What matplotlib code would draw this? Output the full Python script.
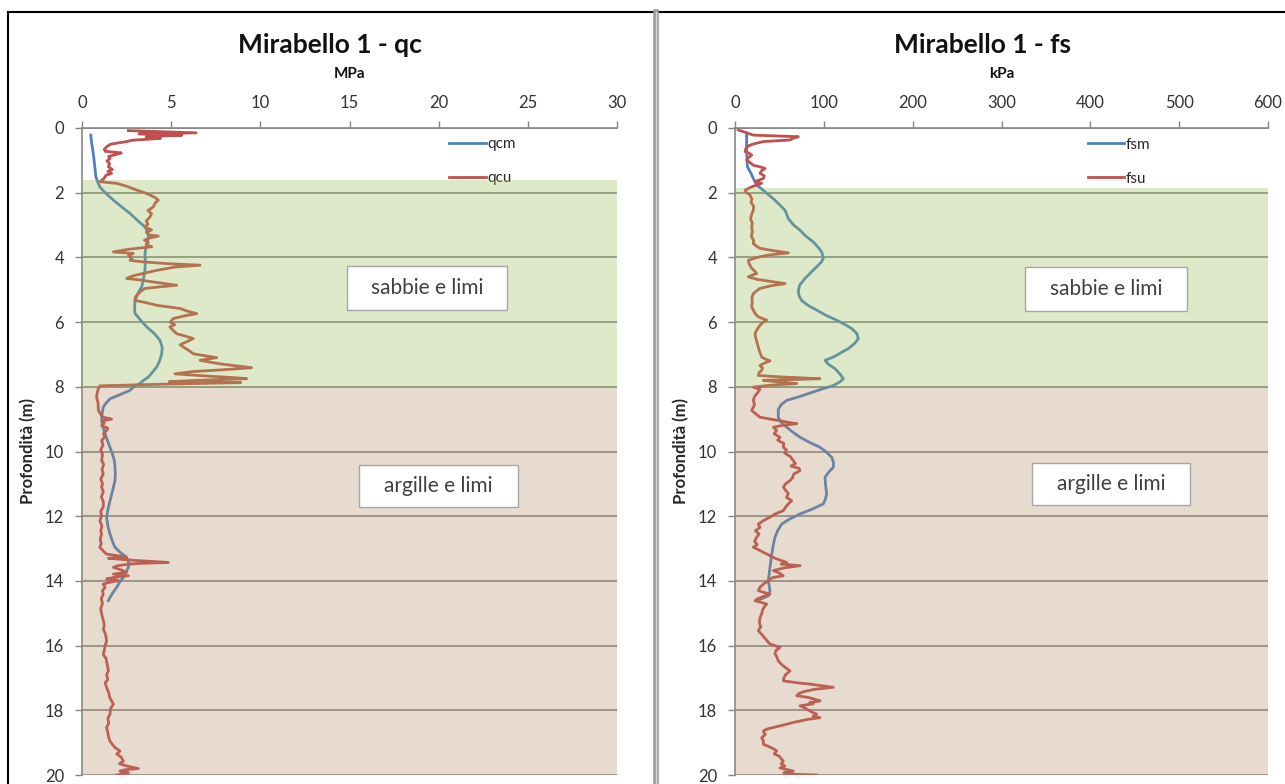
import numpy as np
import matplotlib
matplotlib.use('Agg')
import matplotlib.pyplot as plt
from matplotlib.lines import Line2D
from matplotlib.patches import Rectangle

plt.rcParams.update({
    'font.family': ['Lato', 'DejaVu Sans'],
    'font.size': 11,
    'text.color': '#262626',
    'axes.labelcolor': '#262626',
})

# --- CPT log, Mirabello 1: depth (m) vs value ---
# cone resistance, raw (qcu) and mean (qcm), MPa
QCU = [(0.08, 2.6), (0.12, 4.8), (0.15, 6.4), (0.18, 3.2), (0.22, 5.6), (0.27, 3.6), (0.32, 4.4),
       (0.38, 2.8), (0.42, 2.5), (0.50, 1.6), (0.58, 1.38), (0.66, 1.25), (0.72, 1.3), (0.77, 2.2),
       (0.82, 1.9), (0.88, 1.5), (0.94, 1.57), (1.02, 1.4), (1.10, 1.55), (1.20, 1.48), (1.28, 1.7),
       (1.34, 1.45), (1.40, 1.66), (1.46, 1.35), (1.51, 1.29), (1.58, 1.2), (1.66, 1.0), (1.71, 1.94),
       (1.80, 2.5), (1.92, 3.07), (2.0, 3.5), (2.07, 3.81), (2.15, 4.1), (2.23, 4.28), (2.32, 4.1),
       (2.44, 4.0), (2.55, 3.7), (2.65, 3.9), (2.75, 3.81), (2.88, 3.6), (2.97, 3.7), (3.06, 3.53),
       (3.15, 3.9), (3.22, 3.6), (3.31, 3.81), (3.34, 4.28), (3.40, 3.8), (3.47, 3.5), (3.52, 3.72),
       (3.60, 3.6), (3.67, 3.91), (3.75, 2.6), (3.83, 1.76), (3.88, 2.88), (3.95, 2.6), (4.02, 2.8),
       (4.09, 2.69), (4.14, 3.44), (4.20, 5.0), (4.24, 6.62), (4.30, 5.2), (4.40, 4.19), (4.50, 3.4),
       (4.58, 2.8), (4.65, 2.5), (4.70, 3.3), (4.76, 4.0), (4.82, 4.8), (4.86, 5.31), (4.92, 4.2),
       (4.96, 3.53), (5.05, 3.3), (5.12, 3.16), (5.22, 3.0), (5.33, 2.97), (5.40, 3.6), (5.48, 4.19),
       (5.58, 5.5), (5.66, 5.9), (5.74, 6.43), (5.80, 5.8), (5.89, 5.12), (6.0, 4.95), (6.08, 5.2),
       (6.15, 4.93), (6.25, 5.1), (6.36, 5.31), (6.45, 5.9), (6.51, 6.24), (6.60, 5.9), (6.70, 5.5),
       (6.77, 5.68), (6.88, 6.0), (6.98, 6.24), (7.04, 6.9), (7.10, 7.55), (7.18, 6.62), (7.24, 7.2),
       (7.29, 7.74), (7.35, 8.6), (7.41, 9.51), (7.47, 8.0), (7.53, 6.2), (7.60, 5.21), (7.66, 6.8),
       (7.72, 8.6), (7.75, 9.23), (7.80, 6.5), (7.84, 4.9), (7.87, 8.9), (7.92, 4.5), (7.97, 1.0),
       (8.05, 0.92), (8.2, 0.85), (8.32, 0.82), (8.5, 0.9), (8.73, 0.92), (8.85, 1.05), (8.94, 1.19),
       (9.0, 1.66), (9.05, 1.15), (9.12, 1.25), (9.2, 1.1), (9.28, 1.45), (9.35, 1.38), (9.45, 1.2),
       (9.55, 1.28), (9.66, 1.10), (9.8, 1.18), (9.95, 1.05), (10.1, 1.15), (10.28, 1.10), (10.4, 1.22),
       (10.55, 1.12), (10.69, 1.19), (10.85, 1.05), (11.0, 1.15), (11.1, 1.10), (11.25, 1.2),
       (11.4, 1.08), (11.55, 1.2), (11.72, 1.19), (11.85, 1.05), (12.0, 1.1), (12.14, 1.0),
       (12.3, 1.12), (12.45, 1.05), (12.55, 1.10), (12.7, 1.02), (12.85, 1.08), (12.96, 1.0),
       (13.08, 1.2), (13.17, 1.38), (13.23, 2.1), (13.27, 2.5), (13.30, 1.48), (13.36, 2.8),
       (13.43, 4.84), (13.46, 3.2), (13.48, 2.69), (13.53, 2.0), (13.58, 1.76), (13.66, 2.2),
       (13.73, 2.5), (13.79, 1.76), (13.84, 2.6), (13.90, 1.7), (13.94, 1.38), (13.99, 2.04),
       (14.05, 1.5), (14.10, 1.19), (14.2, 1.3), (14.3, 1.15), (14.41, 1.19), (14.55, 1.08),
       (14.7, 1.15), (14.85, 1.05), (15.02, 1.10), (15.2, 1.18), (15.35, 1.25), (15.5, 1.2),
       (15.65, 1.32), (15.85, 1.38), (16.0, 1.3), (16.15, 1.25), (16.27, 1.19), (16.4, 1.35),
       (16.55, 1.4), (16.78, 1.48), (16.9, 1.38), (17.05, 1.45), (17.15, 1.3), (17.3, 1.38),
       (17.45, 1.5), (17.6, 1.55), (17.81, 1.76), (17.95, 1.6), (18.12, 1.57), (18.25, 1.45),
       (18.4, 1.5), (18.53, 1.38), (18.7, 1.45), (18.85, 1.5), (18.95, 1.57), (19.05, 1.7),
       (19.15, 1.85), (19.26, 2.13), (19.35, 1.95), (19.45, 2.2), (19.57, 2.32), (19.65, 2.1),
       (19.72, 2.5), (19.80, 3.16), (19.84, 2.4), (19.88, 2.13), (19.93, 2.6), (19.97, 2.3), (20.0, 1.94)]

QCM = [(0.22, 0.49), (0.5, 0.55), (0.78, 0.63), (1.1, 0.7), (1.51, 0.78), (1.7, 0.9), (1.82, 1.0),
       (2.0, 1.3), (2.23, 1.76), (2.45, 2.25), (2.64, 2.69), (2.85, 3.1), (3.06, 3.53), (3.2, 3.68),
       (3.36, 3.72), (3.6, 3.62), (3.88, 3.53), (4.15, 3.55), (4.4, 3.53), (4.65, 3.45), (4.91, 3.35),
       (5.1, 3.15), (5.33, 2.97), (5.55, 2.95), (5.73, 2.97), (5.95, 3.3), (6.15, 3.63), (6.35, 4.05),
       (6.56, 4.37), (6.78, 4.5), (6.98, 4.47), (7.2, 4.35), (7.39, 4.19), (7.55, 3.95), (7.70, 3.72),
       (7.8, 3.45), (7.9, 3.25), (8.0, 2.9), (8.11, 2.69), (8.25, 2.1), (8.37, 1.57), (8.5, 1.35),
       (8.63, 1.19), (8.85, 1.12), (9.04, 1.10), (9.25, 1.18), (9.45, 1.29), (9.65, 1.42),
       (9.87, 1.57), (10.1, 1.72), (10.3, 1.82), (10.49, 1.85), (10.7, 1.87), (10.9, 1.85),
       (11.2, 1.72), (11.52, 1.57), (11.8, 1.45), (12.03, 1.38), (12.3, 1.45), (12.55, 1.57),
       (12.8, 1.72), (12.96, 1.85), (13.12, 2.15), (13.27, 2.5), (13.45, 2.62), (13.58, 2.6),
       (13.75, 2.45), (13.89, 2.32), (14.05, 2.1), (14.2, 1.94), (14.35, 1.75), (14.51, 1.57),
       (14.61, 1.48)]

# sleeve friction, raw (fsu) and mean (fsm), kPa
FSU = [(0.06, 3.7), (0.14, 12), (0.22, 20.6), (0.25, 50), (0.27, 71.3), (0.32, 65), (0.37, 61.9),
       (0.42, 31.9), (0.5, 20), (0.58, 13.1), (0.66, 12), (0.73, 11.3), (0.78, 16), (0.84, 18.8),
       (0.92, 15), (0.99, 13.1), (1.07, 17), (1.15, 20.6), (1.2, 28), (1.25, 33.8), (1.32, 30),
       (1.4, 28.1), (1.48, 33), (1.56, 31.9), (1.62, 26), (1.66, 22.5), (1.71, 30), (1.76, 25),
       (1.82, 18.8), (1.92, 11.3), (2.0, 13), (2.07, 16.9), (2.2, 19), (2.3, 18), (2.42, 21),
       (2.54, 20.6), (2.65, 19), (2.8, 17.5), (2.95, 19.5), (3.06, 18.8), (3.2, 19.5), (3.35, 18.5),
       (3.48, 21), (3.57, 20.6), (3.65, 24), (3.72, 28.1), (3.8, 45), (3.86, 60), (3.92, 40),
       (3.98, 28.1), (4.04, 20), (4.09, 15), (4.2, 16), (4.34, 18.8), (4.42, 22), (4.5, 24.4),
       (4.55, 19), (4.6, 15), (4.68, 25), (4.75, 42), (4.81, 56.3), (4.88, 40), (4.96, 28.1),
       (5.04, 24), (5.12, 20.6), (5.25, 19), (5.4, 19.5), (5.53, 18.8), (5.65, 21), (5.75, 23),
       (5.84, 26.3), (5.9, 32), (5.94, 35.7), (6.02, 31), (6.1, 28.1), (6.22, 25), (6.36, 22.5),
       (6.5, 23.5), (6.65, 25), (6.77, 26.3), (6.9, 27.5), (7.0, 29), (7.08, 30), (7.14, 34),
       (7.2, 39.4), (7.27, 33), (7.34, 28.1), (7.42, 31), (7.49, 30), (7.57, 27), (7.65, 26.3),
       (7.7, 55), (7.75, 95.7), (7.78, 60), (7.8, 31.9), (7.85, 50), (7.9, 69.5), (7.95, 40),
       (8.01, 20.6), (8.08, 28.1), (8.2, 25), (8.3, 22), (8.42, 20.6), (8.55, 22), (8.73, 18.8),
       (8.85, 24), (8.94, 28.1), (9.0, 40), (9.04, 48.7), (9.1, 60), (9.14, 69.5), (9.2, 52),
       (9.25, 43.2), (9.35, 47), (9.45, 44), (9.56, 50.7), (9.65, 48), (9.75, 55), (9.87, 54.4),
       (9.95, 58), (10.05, 56), (10.15, 62), (10.28, 65.7), (10.38, 68), (10.45, 63), (10.52, 72),
       (10.59, 73.2), (10.7, 66), (10.8, 65), (10.9, 61.9), (11.0, 57), (11.1, 54.4), (11.2, 57),
       (11.3, 60), (11.42, 58), (11.52, 63.8), (11.62, 60), (11.72, 57), (11.83, 54.4), (11.92, 46),
       (12.03, 39.4), (12.12, 33), (12.24, 26.3), (12.35, 28), (12.45, 23), (12.55, 27),
       (12.65, 24.4), (12.78, 22), (12.88, 25), (12.96, 20.6), (13.06, 28), (13.17, 35.7),
       (13.3, 45), (13.43, 58.2), (13.48, 52), (13.53, 73.2), (13.6, 55), (13.68, 43.2),
       (13.76, 50), (13.84, 54.4), (13.9, 42), (13.99, 37.5), (14.1, 32), (14.2, 28), (14.3, 26.3),
       (14.36, 33), (14.41, 39.4), (14.5, 30), (14.56, 25), (14.61, 22.5), (14.67, 30),
       (14.72, 35.7), (14.8, 33), (14.9, 31), (15.02, 30), (15.15, 28), (15.3, 27.5), (15.42, 29),
       (15.54, 26.3), (15.65, 30), (15.75, 33), (15.85, 36), (15.95, 39.4), (16.06, 50.7),
       (16.15, 46), (16.25, 45), (16.35, 47), (16.47, 48.7), (16.6, 53), (16.7, 58), (16.78, 61.9),
       (16.9, 57), (17.0, 55), (17.09, 54.4), (17.15, 70), (17.19, 84.4), (17.24, 98),
       (17.29, 110.7), (17.35, 90), (17.42, 78), (17.48, 72), (17.55, 69.5), (17.6, 82),
       (17.66, 90), (17.71, 95.7), (17.76, 84), (17.8, 88), (17.86, 73.2), (17.95, 80),
       (18.05, 86), (18.12, 92), (18.18, 88), (18.23, 95.7), (18.28, 82), (18.33, 73.2),
       (18.38, 65), (18.43, 58.2), (18.52, 45), (18.58, 36), (18.64, 31.9), (18.75, 34),
       (18.85, 30), (18.95, 32), (19.05, 31.9), (19.12, 38), (19.2, 44), (19.26, 46.9), (19.35, 44),
       (19.42, 50), (19.5, 52), (19.57, 54.4), (19.65, 52), (19.72, 56), (19.78, 50.7), (19.84, 60),
       (19.88, 65.7), (19.93, 55), (19.97, 58.2), (20.0, 92)]

FSM = [(0.16, 13.1), (0.6, 13.1), (1.0, 13.5), (1.2, 14), (1.4, 18), (1.56, 20.6), (1.76, 24.4),
       (1.97, 33.8), (2.23, 45), (2.54, 56.3), (2.8, 60), (3.0, 66), (3.16, 73.2), (3.35, 80),
       (3.52, 88.1), (3.7, 94), (3.83, 97.6), (4.03, 99.4), (4.15, 97), (4.29, 92), (4.45, 86),
       (4.65, 78.8), (4.85, 73), (5.02, 71.3), (5.18, 72), (5.33, 75), (5.48, 82), (5.63, 92),
       (5.8, 103), (5.94, 114.5), (6.08, 124), (6.2, 131.4), (6.35, 137), (6.51, 138.9), (6.65, 135),
       (6.82, 127.6), (6.95, 119), (7.08, 110.7), (7.18, 101.3), (7.3, 105), (7.44, 112.6),
       (7.6, 118), (7.75, 122), (7.85, 118), (7.96, 110.7), (8.05, 100), (8.16, 88.1), (8.3, 73),
       (8.42, 58.2), (8.55, 52), (8.7, 48.7), (8.94, 48.7), (9.1, 52), (9.25, 58.2), (9.4, 65),
       (9.56, 73.2), (9.72, 84), (9.87, 95.7), (10.02, 103), (10.18, 108.9), (10.35, 111),
       (10.49, 110.7), (10.62, 106), (10.8, 101.3), (11.05, 102), (11.31, 103.2), (11.5, 101.5),
       (11.62, 99.4), (11.78, 87), (11.93, 73.2), (12.08, 62), (12.24, 52.6), (12.45, 48),
       (12.65, 45), (12.9, 43), (13.17, 41.3), (13.58, 39.4), (13.99, 37.5), (14.15, 38.5),
       (14.3, 39.4), (14.4, 38.5), (14.46, 37.5), (14.55, 30), (14.61, 24.4)]

# soil layers: (top, bottom) depth in m
SAND_QC = (1.6, 8.0)
SAND_FS = (1.85, 8.0)
CLAY = (8.0, 20.0)
LAYER_NAMES = ['sabbie e limi', 'argille e limi']

C_MEAN = '#4F81BD'
C_RAW = '#C0504D'
C_SAND = '#9BBB59'
C_CLAY = '#B28A62'
C_AXIS = '#868686'

W, H = 1285, 784
fig = plt.figure(figsize=(W / 100, H / 100), dpi=100)


def px_box(x0, x1, y0=128, y1=775):
    return [x0 / W, 1 - y1 / H, (x1 - x0) / W, (y1 - y0) / H]


def label_box(ax, text, x0, x1, y0, y1):
    # white label with thin grey outline, given as data extents
    ax.add_patch(Rectangle((x0, y0), x1 - x0, y1 - y0, facecolor='white',
                           edgecolor='#A6A6A6', lw=1, zorder=6))
    ax.text((x0 + x1) / 2, (y0 + y1) / 2, text, ha='center', va='center',
            fontsize=15, color='#404040', zorder=7)


def panel(rect, raw, mean, names, xmax, xstep, sand, title, unit, leg_xy, boxes):
    ax = fig.add_axes(rect)
    rz, rv = np.array(raw).T
    mz, mv = np.array(mean).T
    ax.plot(mv, mz, color=C_MEAN, lw=2, label=names[0], zorder=2)
    ax.plot(rv, rz, color=C_RAW, lw=2, label=names[1], zorder=2)

    ax.set_xlim(0, xmax)
    ax.set_ylim(20, 0)
    ax.set_xticks(np.arange(0, xmax + 1, xstep))
    ax.set_yticks(np.arange(0, 21, 2))
    ax.xaxis.tick_top()
    ax.tick_params(axis='both', direction='out', length=5, color=C_AXIS, width=1,
                   labelsize=12, labelcolor='#333333')
    ax.tick_params(axis='x', pad=7)
    ax.tick_params(axis='y', pad=8)
    for s in ['right', 'bottom']:
        ax.spines[s].set_visible(False)
    for s in ['left', 'top']:
        ax.spines[s].set_color(C_AXIS)
        ax.spines[s].set_linewidth(1.2)
    ax.spines['top'].set_zorder(5)
    ax.set_axisbelow(True)
    ax.yaxis.grid(True, color='#7a7a7a', lw=1.1)

    leg = ax.legend(loc='upper left', bbox_to_anchor=leg_xy, bbox_transform=ax.transData,
                    frameon=False, fontsize=11, labelspacing=1.3, handlelength=2.4,
                    handletextpad=0.1, borderpad=0, borderaxespad=0)
    leg.set_zorder(2.5)

    # layer shading sits over the traces, like the spreadsheet overlay
    ax.axhspan(*sand, color=C_SAND, alpha=0.32, lw=0, zorder=3)
    ax.axhspan(*CLAY, color=C_CLAY, alpha=0.30, lw=0, zorder=3)

    for name, ext in zip(LAYER_NAMES, boxes):
        label_box(ax, name, *ext)

    ax.set_title(title, x=0.4635, y=1.128, pad=0, va='center', fontsize=19,
                 fontweight='bold', color='#111111')
    ax.text(0.5, 1.083, unit, transform=ax.transAxes, ha='center', va='center',
            fontsize=11, fontweight='bold', color='#111111')
    ax.set_ylabel('Profondità (m)', fontsize=12, fontweight='bold', labelpad=6)
    return ax


ax_qc = panel(px_box(82, 617), QCU, QCM, ['qcm', 'qcu'], 30, 5, SAND_QC,
              'Mirabello 1 - qc', 'MPa', (20.6, 0.28),
              [(14.86, 23.83, 4.27, 5.63), (15.53, 24.45, 10.42, 11.72)])
ax_fs = panel(px_box(735, 1268), FSU, FSM, ['fsm', 'fsu'], 600, 100, SAND_FS,
              'Mirabello 1 - fs', 'kPa', (397, 0.30),
              [(326.5, 508.8, 4.30, 5.66), (334.3, 512.2, 10.36, 11.65)])

# chart frames and separator
fig.add_artist(Line2D([8 / W, 1], [1 - 12 / H] * 2, color='black', lw=1.5))
fig.add_artist(Line2D([8 / W] * 2, [0, 1 - 12 / H], color='black', lw=1.5))
fig.add_artist(Line2D([656 / W] * 2, [0, 1 - 12 / H], color='#9a9a9a', lw=4))
fig.add_artist(Line2D([656 / W] * 2, [0, 1 - 12 / H], color='#d8d8d8', lw=1))

fig.savefig('out.png', dpi=100, facecolor='white')
